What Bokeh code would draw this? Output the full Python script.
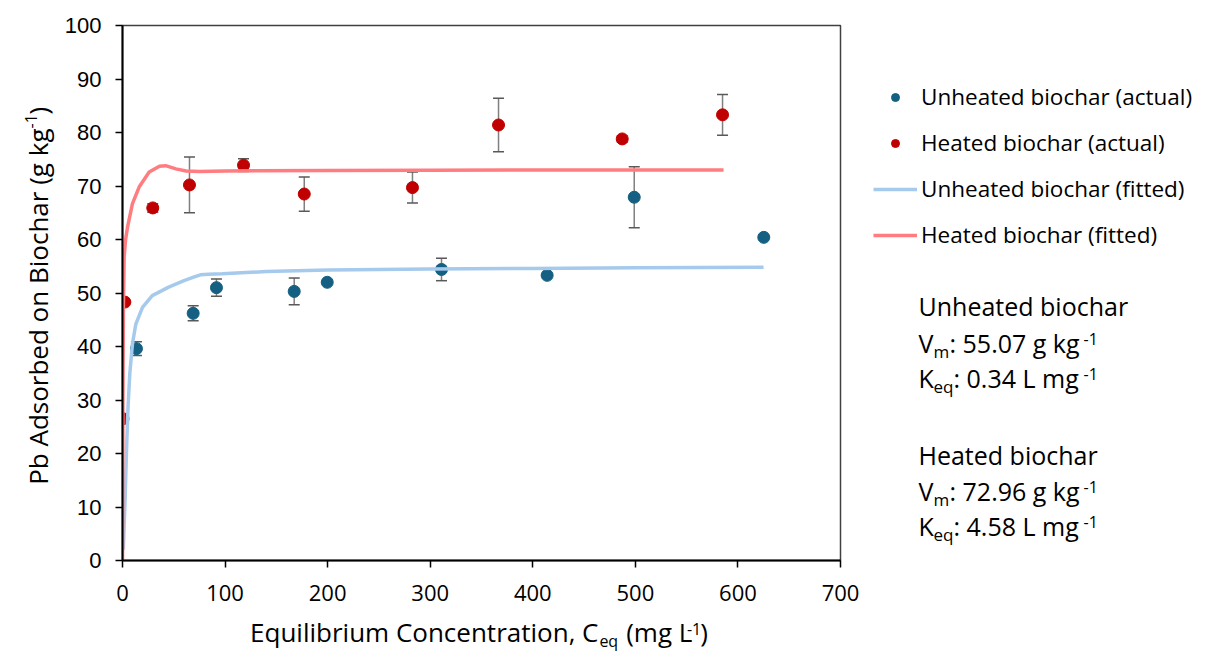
import math
from bokeh.plotting import figure
from bokeh.layouts import row, column
from bokeh.models import (ColumnDataSource, Whisker, TeeHead, Legend, LegendItem,
                          Label, Range1d, FixedTicker)
from bokeh.embed import file_html
from bokeh.resources import INLINE

# ---------------- data ----------------
unheated_c = [0.5, 13.6, 68.9, 91.6, 167.4, 199.6, 311.0, 414.0, 498.9, 625.2]
unheated_q = [26.5, 39.6, 46.2, 51.0, 50.3, 52.0, 54.4, 53.3, 67.9, 60.4]
unheated_err = [0.0, 1.3, 1.4, 1.6, 2.5, 0.0, 2.1, 0.0, 5.7, 0.0]

heated_c = [0.0, 2.3, 29.5, 65.3, 118.0, 177.2, 282.7, 366.6, 487.2, 585.0]
heated_q = [26.5, 48.3, 65.9, 70.2, 73.9, 68.5, 69.7, 81.4, 78.8, 83.3]
heated_err = [0.0, 0.0, 0.8, 5.2, 1.2, 3.2, 2.9, 5.0, 0.6, 3.8]

fit_unheated_c = [0.8, 1.5, 2.6, 4.0, 5.4, 7.1, 9.7, 13.0, 19.5, 29.0, 45.0, 60.0,
                  70.0, 76.0, 84.0, 97.0, 140.0, 200.0, 300.0, 400.0, 500.0, 625.0]
fit_unheated_q = [2.0, 6.0, 11.8, 21.2, 28.7, 34.9, 40.5, 44.2, 47.3, 49.5, 51.1, 52.3,
                  53.0, 53.4, 53.5, 53.6, 54.0, 54.3, 54.5, 54.6, 54.7, 54.8]

fit_heated_c = [0.0, 0.4, 0.9, 1.6, 3.0, 4.9, 9.7, 16.2, 26.0, 36.0, 42.0, 52.0,
                62.0, 75.0, 100.0, 200.0, 300.0, 400.0, 586.0]
fit_heated_q = [0.0, 30.0, 48.0, 56.7, 60.0, 62.3, 66.7, 69.8, 72.6, 73.7, 73.8, 73.2,
                72.8, 72.7, 72.8, 72.9, 72.95, 73.0, 73.0]

x_ticks = [0, 100, 200, 300, 400, 500, 600, 700]
y_ticks = [0, 10, 20, 30, 40, 50, 60, 70, 80, 90, 100]

legend_labels = ["Unheated biochar (actual)", "Heated biochar (actual)",
                 "Unheated biochar (fitted)", "Heated biochar (fitted)"]

# ---------------- styles ----------------
BLUE = "#156082"
RED = "#C00000"
FIT_BLUE = "#A6CAEC"
FIT_RED = "#FF7C80"
ERR = "#7F7F7F"
CAP = "#595959"
FONT = "Open Sans"

# layout geometry (page pixels)
FRAME_L, FRAME_T, FRAME_W, FRAME_H = 122, 25, 718, 535
YLAB_W = 60
MAIN_W = 864 - YLAB_W
MAIN_H = 615
RIGHT_X = 864
RIGHT_W = 330
TOTAL_H = 660
XLAB_H = TOTAL_H - MAIN_H
BASE_K = 0.43  # measured offset between requested and drawn baseline (in em)

# ---------------- main plot ----------------
p = figure(width=MAIN_W, height=MAIN_H, output_backend="svg", toolbar_location=None,
           x_range=Range1d(0, 700), y_range=Range1d(0, 100),
           min_border_left=FRAME_L - YLAB_W,
           min_border_right=MAIN_W - (FRAME_L - YLAB_W) - FRAME_W,
           min_border_top=FRAME_T, min_border_bottom=MAIN_H - FRAME_T - FRAME_H)
p.background_fill_color = "white"
p.border_fill_color = "white"
p.outline_line_color = "#404040"
p.outline_line_width = 1.5
p.xgrid.visible = False
p.ygrid.visible = False

for ax in (p.xaxis[0], p.yaxis[0]):
    ax.axis_line_color = "black"
    ax.axis_line_width = 2
    ax.major_tick_line_color = "black"
    ax.major_tick_line_width = 1.5
    ax.major_tick_out = 7
    ax.major_tick_in = 0
    ax.minor_tick_line_color = None
    ax.major_label_text_color = "black"
    ax.major_label_text_font_size = "22px"

p.xaxis.ticker = FixedTicker(ticks=x_ticks)
p.yaxis.ticker = FixedTicker(ticks=y_ticks)
p.xaxis.major_label_text_font = FONT
p.yaxis.major_label_text_font = "Liberation Sans"
p.xaxis.major_label_standoff = 17
p.yaxis.major_label_standoff = 14

src_u = ColumnDataSource(dict(c=unheated_c, q=unheated_q,
                              lo=[q - e for q, e in zip(unheated_q, unheated_err)],
                              hi=[q + e for q, e in zip(unheated_q, unheated_err)]))
src_h = ColumnDataSource(dict(c=heated_c, q=heated_q,
                              lo=[q - e for q, e in zip(heated_q, heated_err)],
                              hi=[q + e for q, e in zip(heated_q, heated_err)]))
for src in (src_u, src_h):
    p.add_layout(Whisker(base="c", lower="lo", upper="hi", source=src,
                         line_color=ERR, line_width=1.5, level="underlay",
                         upper_head=TeeHead(size=11, line_color=CAP, line_width=1.5),
                         lower_head=TeeHead(size=11, line_color=CAP, line_width=1.5)))

p.scatter("c", "q", source=src_u, size=12, color=BLUE, line_color=BLUE)
p.scatter("c", "q", source=src_h, size=12, color=RED, line_color=RED)
p.line(fit_unheated_c, fit_unheated_q, line_color=FIT_BLUE, line_width=3.5)
p.line(fit_heated_c, fit_heated_q, line_color=FIT_RED, line_width=3.5)


# ---------------- text panels ----------------
def text_fig(w, h):
    f = figure(width=w, height=h, x_range=Range1d(0, w), y_range=Range1d(h, 0),
               output_backend="svg", toolbar_location=None, title=None,
               x_axis_location=None, y_axis_location=None,
               min_border_left=0, min_border_right=0, min_border_top=0,
               min_border_bottom=0)
    f.outline_line_color = None
    f.grid.visible = False
    f.background_fill_color = "white"
    f.border_fill_color = "white"
    return f


def lab(f, ox, oy, px, py, text, size, angle=0.0, align="left"):
    if angle == 0.0:
        py = py - BASE_K * size
    f.add_layout(Label(x=px - ox, y=py - oy, text=text, text_font=FONT,
                       text_font_size=f"{size}px", text_color="black",
                       text_align=align, text_baseline="alphabetic", angle=angle))


# y axis title (rotated, reads bottom -> top)
fy = text_fig(YLAB_W, TOTAL_H)
R = math.pi / 2
YB = 37  # drawn baseline lands near x = 48
lab(fy, 0, 0, YB, 128, "Pb Adsorbed on Biochar (g kg", 26, R, "right")
lab(fy, 0, 0, YB - 7, 128, "-1", 16, R)
lab(fy, 0, 0, YB, 114, ")", 26, R)

# x axis title
fx = text_fig(MAIN_W, XLAB_H)
OX, OY = YLAB_W, MAIN_H
lab(fx, OX, OY, 593, 642.7, "Equilibrium Concentration, C", 26, 0.0, "right")
lab(fx, OX, OY, 594, 647.5, "eq", 16)
lab(fx, OX, OY, 624, 642.7, "(mg L", 26)
lab(fx, OX, OY, 692, 635.0, "-1", 16)
lab(fx, OX, OY, 707, 642.7, ")", 26)

# right panel: legend + parameter text
NAN = float("nan")
fr = text_fig(RIGHT_W, TOTAL_H)
lr_u = fr.scatter([NAN], [NAN], size=12, color=BLUE, line_color=BLUE)
lr_h = fr.scatter([NAN], [NAN], size=12, color=RED, line_color=RED)
lr_fu = fr.line([NAN, NAN], [NAN, NAN], line_color=FIT_BLUE, line_width=3.5)
lr_fh = fr.line([NAN, NAN], [NAN, NAN], line_color=FIT_RED, line_width=3.5)
legend = Legend(items=[LegendItem(label=legend_labels[0], renderers=[lr_u]),
                       LegendItem(label=legend_labels[1], renderers=[lr_h]),
                       LegendItem(label=legend_labels[2], renderers=[lr_fu]),
                       LegendItem(label=legend_labels[3], renderers=[lr_fh])],
                location=(873 - RIGHT_X, TOTAL_H - 250), orientation="vertical",
                padding=0, margin=0, spacing=15,
                glyph_width=44, glyph_height=20, label_height=20, label_standoff=4,
                label_text_font=FONT, label_text_font_size="22.5px",
                label_text_color="black",
                border_line_alpha=0, background_fill_alpha=0)
fr.add_layout(legend)

OX = RIGHT_X
lab(fr, OX, 0, 918, 316.5, "Unheated biochar", 25)
lab(fr, OX, 0, 918, 353, "V", 25)
lab(fr, OX, 0, 933, 358, "m", 17)
lab(fr, OX, 0, 949, 353, ": 55.07 g kg", 25)
lab(fr, OX, 0, 1083, 345, "-1", 16)
lab(fr, OX, 0, 918, 388.5, "K", 25)
lab(fr, OX, 0, 933, 393.5, "eq", 17)
lab(fr, OX, 0, 953, 388.5, ": 0.34 L mg", 25)
lab(fr, OX, 0, 1083, 380.5, "-1", 16)

lab(fr, OX, 0, 918, 465, "Heated biochar", 25)
lab(fr, OX, 0, 918, 501.5, "V", 25)
lab(fr, OX, 0, 933, 506.5, "m", 17)
lab(fr, OX, 0, 949, 501.5, ": 72.96 g kg", 25)
lab(fr, OX, 0, 1083, 493.5, "-1", 16)
lab(fr, OX, 0, 918, 536.7, "K", 25)
lab(fr, OX, 0, 933, 541.7, "eq", 17)
lab(fr, OX, 0, 953, 536.7, ": 4.58 L mg", 25)
lab(fr, OX, 0, 1083, 528.7, "-1", 16)

layout = row(fy, column(p, fx), fr)
open("out.html", "w").write(file_html(layout, INLINE))
